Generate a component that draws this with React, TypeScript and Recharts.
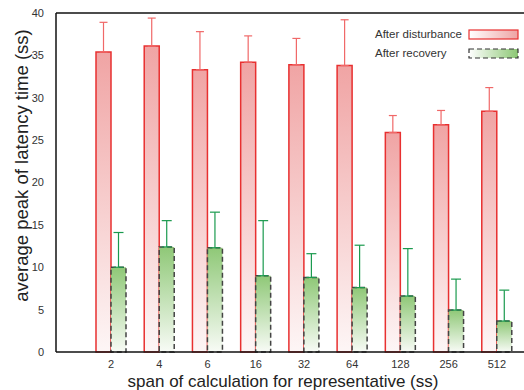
import { BarChart, Bar, XAxis, YAxis, ErrorBar, ReferenceLine } from 'recharts'

const spans = ['2', '4', '6', '16', '32', '64', '128', '256', '512']
const afterDisturbance = [35.4, 36.1, 33.3, 34.2, 33.9, 33.8, 25.9, 26.8, 28.4]
const disturbanceErr = [3.5, 3.3, 4.5, 3.1, 3.1, 5.4, 2.0, 1.7, 2.8]
const afterRecovery = [10.0, 12.4, 12.3, 9.0, 8.8, 7.6, 6.6, 4.95, 3.65]
const recoveryErr = [4.1, 3.1, 4.2, 6.5, 2.8, 5.0, 5.6, 3.65, 3.65]
const yTicks = [0, 5, 10, 15, 20, 25, 30, 35, 40]

const data = spans.map((s, i) => ({
  span: s,
  dist: afterDisturbance[i],
  distErr: [0, disturbanceErr[i]],
  rec: afterRecovery[i],
  recErr: [0, recoveryErr[i]],
}))

const font = '"Liberation Sans", Arial, sans-serif'

function LegendBox() {
  return (
    <div style={{ position: 'absolute', left: 375, top: 25, fontFamily: font, fontSize: 11.5, color: '#333', lineHeight: '19px' }}>
      <div style={{ display: 'flex', alignItems: 'center' }}>
        <span style={{ width: 93 }}>After disturbance</span>
        <svg width={52} height={12}>
          <defs>
            <linearGradient id="lgRed" x1="0" y1="0" x2="1" y2="0">
              <stop offset="0%" stopColor="#ffffff" />
              <stop offset="100%" stopColor="#eea3a3" />
            </linearGradient>
          </defs>
          <rect x={1} y={1} width={49} height={9} fill="url(#lgRed)" stroke="#e83030" strokeWidth={1.2} />
        </svg>
      </div>
      <div style={{ display: 'flex', alignItems: 'center' }}>
        <span style={{ width: 93 }}>After recovery</span>
        <svg width={52} height={12}>
          <defs>
            <linearGradient id="lgGreen" x1="0" y1="0" x2="1" y2="0">
              <stop offset="0%" stopColor="#ffffff" />
              <stop offset="100%" stopColor="#8cc774" />
            </linearGradient>
          </defs>
          <rect x={1} y={1} width={49} height={9} fill="url(#lgGreen)" stroke="#333" strokeWidth={1.2} strokeDasharray="5 3" />
        </svg>
      </div>
    </div>
  )
}

export default function App() {
  return (
    <div style={{ position: 'absolute', left: 0, top: 0, width: 524, height: 390, background: '#fff' }}>
      <BarChart
        width={524}
        height={390}
        data={data}
        margin={{ top: 13, right: 0, bottom: 0, left: 0 }}
        barGap={0}
        barSize={15}
      >
        <defs>
          <linearGradient id="gRed" x1="0" y1="0" x2="0" y2="1">
            <stop offset="0%" stopColor="#f0a4a4" />
            <stop offset="100%" stopColor="#fdf6f6" />
          </linearGradient>
          <linearGradient id="gGreen" x1="0" y1="0" x2="0" y2="1">
            <stop offset="0%" stopColor="#8fc877" />
            <stop offset="100%" stopColor="#f8fbf6" />
          </linearGradient>
        </defs>
        <XAxis
          dataKey="span"
          height={38}
          padding={{ left: 31, right: 3 }}
          tickLine={false}
          axisLine={{ stroke: '#111', strokeWidth: 1.5 }}
          tick={{ fill: '#333', fontSize: 11, fontFamily: font }}
          label={{ value: 'span of calculation for representative (ss)', position: 'insideBottom', offset: 3, dx: -7, fill: '#222', fontSize: 17, fontFamily: font }}
        />
        <YAxis
          width={56}
          domain={[0, 40]}
          ticks={yTicks}
          tickLine={false}
          tickMargin={6}
          axisLine={{ stroke: '#111', strokeWidth: 1.5 }}
          tick={{ fill: '#333', fontSize: 11, fontFamily: font }}
          label={{ value: 'average peak of latency time (ss)', angle: -90, position: 'center', dx: -7, dy: -17, fill: '#222', fontSize: 18.5, fontFamily: font }}
        />
        <ReferenceLine y={40} stroke="#111" strokeWidth={1.5} ifOverflow="extendDomain" />
        <Bar dataKey="dist" name="After disturbance" fill="url(#gRed)" stroke="#e83030" strokeWidth={1.5} isAnimationActive={false}>
          <ErrorBar dataKey="distErr" width={4} stroke="#f06868" strokeWidth={1.2} />
        </Bar>
        <Bar dataKey="rec" name="After recovery" fill="url(#gGreen)" stroke="#444" strokeWidth={1.5} strokeDasharray="5 3" isAnimationActive={false}>
          <ErrorBar dataKey="recErr" width={5} stroke="#1a9a4e" strokeWidth={1.2} />
        </Bar>
      </BarChart>
      <LegendBox />
    </div>
  )
}
